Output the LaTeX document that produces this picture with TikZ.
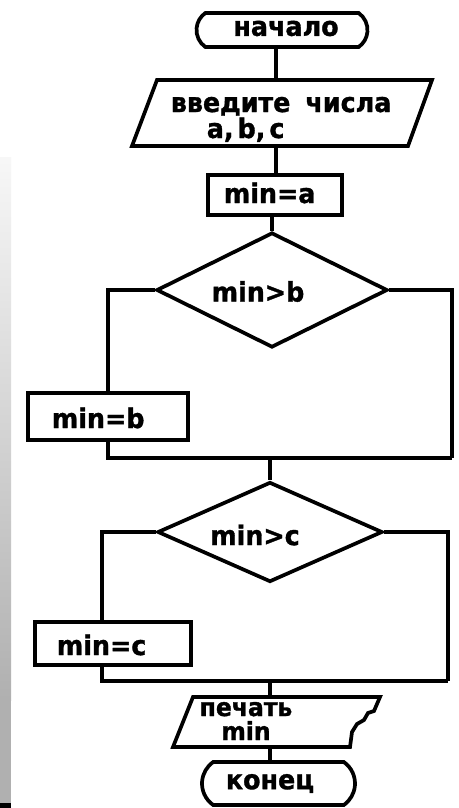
\documentclass[tikz,border=0pt]{standalone}
\usepackage{fontspec}
\newfontfamily\diafont{DejaVu Sans Bold}[FakeStretch=0.94, FakeBold=1.2]
\usetikzlibrary{shapes.geometric,shapes.misc,calc}
\begin{document}
\begin{tikzpicture}[x=1pt,y=-1pt,line width=3.7pt,line join=miter,
  every node/.style={font=\diafont\fontsize{27}{30}\selectfont, inner sep=0pt},
  term/.style={draw, rounded rectangle, rounded rectangle arc length=110},
  box/.style={draw, rectangle},
  dec/.style={draw, diamond, aspect=2}]
\useasboundingbox (0,0) rectangle (458,808);
\fill[white] (0,0) rectangle (458,808);
% left grey strip
\shade[top color=black!3, bottom color=black!31, draw=none] (0,157) rectangle (11,700);
\fill[black!31] (0,699) rectangle (11,803);
\fill[black] (0,803) rectangle (11,808);

% start
\node[term, minimum width=171, minimum height=34] (start) at (282,30) {};
\node (startT) at (286,28.5) {начало};

% input parallelogram
\draw (157,80) -- (432,80) -- (408,146) -- (132,146) -- cycle;
\coordinate (inpT) at (276,80);
\coordinate (inpB) at (276,146);
\node[anchor=base west] (inp1) at (169,112) {введите\hspace{15pt}числа};
\node[anchor=base west] (inp2) at (205,138) {a,\hspace{4pt}b,\hspace{4pt}c};

% min=a
\node[box, minimum width=134, minimum height=40] (minA) at (275,195) {};
\node[anchor=base west] (minAt) at (222,203) {min=a};

% decision 1
\node[dec, minimum width=231, minimum height=115] (d1) at (272,290) {};
\node (d1t) at (258,291.5) {min>b};
\node[box, minimum width=160, minimum height=47] (minB) at (108,416.5) {};
\node[anchor=base west] (minBt) at (50,428) {min=b};
\coordinate (j1) at (270,458);
\coordinate (j1r) at (452,458);

% decision 2
\node[dec, minimum width=225, minimum height=100] (d2) at (270,532) {};
\node (d2t) at (255,535) {min>c};
\node[box, minimum width=156, minimum height=43] (minC) at (113,643.5) {};
\node[anchor=base west] (minCt) at (55,655) {min=c};
\coordinate (cCt) at ($(minC.north west)+(69,0)$);
\coordinate (cCb) at ($(minC.south west)+(69,0)$);
\coordinate (j2) at (270,681);
\coordinate (j2r) at (448,681);

% print (document) shape
\draw (193,697) -- (380,697) -- (374,711) -- (368,713) -- (364,720) -- (357,724)
      -- (352,732) -- (350,747) -- (173,747) -- cycle;
\coordinate (prT) at (270,697);
\coordinate (prB) at (270,747);
\node[anchor=base, font=\diafont\fontsize{25}{28}\selectfont] (pr1) at (246,716) {печать};
\node[anchor=base, font=\diafont\fontsize{25}{28}\selectfont] (pr2) at (246,740) {min};

% end
\node[term, minimum width=153, minimum height=43] (stop) at (278.5,783.5) {};
\node (stopT) at (270,783.5) {конец};

% connectors
\draw (inpT |- start.south) -- (inpT);
\draw (inpB) -- (inpB |- minA.north);
\draw (d1.north |- minA.south) -- (d1.north);
\draw (d1.west) -| (minB.north);
\draw (minB.south) |- (j1r);
\draw (d1.east) -| (j1r);
\draw (j1) -- (d2.north);
\draw (d2.west) -| (cCt);
\draw (cCb) |- (j2r);
\draw (d2.east) -| (j2r);
\draw (j2) -- (prT);
\draw (prB) -- (prB |- stop.north);
\end{tikzpicture}
\end{document}
